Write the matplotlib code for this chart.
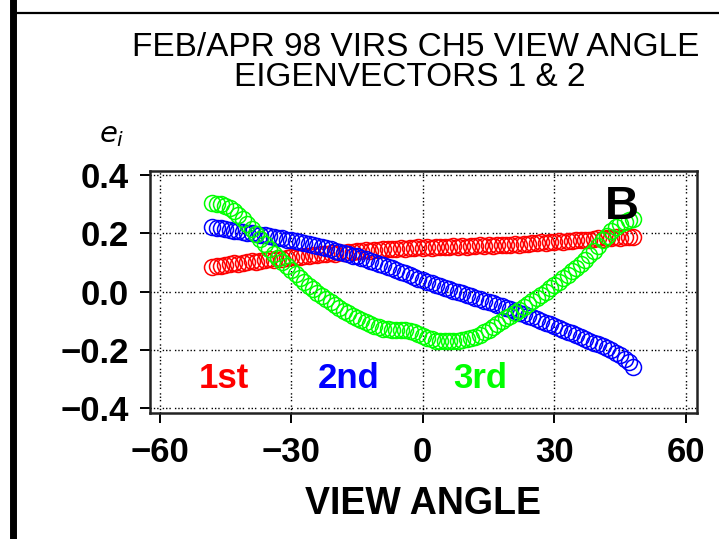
import matplotlib
matplotlib.use("Agg")
import matplotlib.pyplot as plt
from matplotlib.lines import Line2D

plt.rcParams['font.family'] = ['Liberation Sans', 'DejaVu Sans']

view_angle = [-48, -47, -46, -45, -44, -43, -42, -41, -40, -39, -38, -37, -36, -35, -34, -33,
              -32, -31, -30, -29, -28, -27, -26, -25, -24, -23, -22, -21, -20, -19, -18, -17,
              -16, -15, -14, -13, -12, -11, -10, -9, -8, -7, -6, -5, -4, -3, -2, -1, 0,
              1, 2, 3, 4, 5, 6, 7, 8, 9, 10, 11, 12, 13, 14, 15, 16, 17, 18, 19, 20,
              21, 22, 23, 24, 25, 26, 27, 28, 29, 30, 31, 32, 33, 34, 35, 36, 37, 38, 39, 40,
              41, 42, 43, 44, 45, 46, 47, 48]

eig_1st = [0.085, 0.088, 0.089, 0.093, 0.094, 0.097, 0.096, 0.100, 0.101, 0.104, 0.103, 0.107,
           0.108, 0.111, 0.110, 0.114, 0.113, 0.117, 0.118, 0.120, 0.119, 0.123, 0.124, 0.126,
           0.125, 0.129, 0.128, 0.132, 0.131, 0.135, 0.134, 0.137, 0.138, 0.141, 0.139, 0.142,
           0.141, 0.144, 0.143, 0.146, 0.145, 0.148, 0.147, 0.149, 0.148, 0.151, 0.149, 0.152,
           0.150, 0.153, 0.151, 0.154, 0.152, 0.155, 0.153, 0.156, 0.154, 0.157, 0.155, 0.158,
           0.156, 0.159, 0.157, 0.160, 0.158, 0.161, 0.160, 0.162, 0.161, 0.164, 0.162, 0.165,
           0.164, 0.167, 0.166, 0.169, 0.168, 0.171, 0.170, 0.173, 0.172, 0.175, 0.174, 0.177,
           0.176, 0.179, 0.178, 0.181, 0.183, 0.182, 0.185, 0.184, 0.187, 0.186, 0.188, 0.187,
           0.189]

eig_2nd = [0.222, 0.219, 0.218, 0.214, 0.213, 0.210, 0.208, 0.206, 0.203, 0.201, 0.199, 0.196,
           0.194, 0.190, 0.189, 0.185, 0.183, 0.179, 0.176, 0.173, 0.170, 0.167, 0.163, 0.161,
           0.157, 0.154, 0.150, 0.146, 0.141, 0.138, 0.133, 0.130, 0.124, 0.121, 0.116, 0.112,
           0.106, 0.101, 0.095, 0.091, 0.085, 0.080, 0.074, 0.069, 0.063, 0.057, 0.052, 0.045,
           0.040, 0.034, 0.030, 0.024, 0.019, 0.014, 0.008, 0.004, -0.002, -0.006, -0.012,
           -0.016, -0.022, -0.026, -0.031, -0.036, -0.040, -0.046, -0.050, -0.056, -0.061,
           -0.066, -0.072, -0.077, -0.083, -0.088, -0.095, -0.100, -0.107, -0.112, -0.119,
           -0.125, -0.131, -0.137, -0.143, -0.150, -0.156, -0.162, -0.168, -0.175, -0.181,
           -0.188, -0.194, -0.201, -0.210, -0.219, -0.230, -0.242, -0.258]

eig_3rd = [0.305, 0.303, 0.300, 0.296, 0.288, 0.278, 0.265, 0.250, 0.233, 0.216, 0.199, 0.182,
           0.165, 0.148, 0.131, 0.116, 0.101, 0.087, 0.073, 0.060, 0.047, 0.034, 0.021, 0.009,
           -0.003, -0.014, -0.025, -0.036, -0.046, -0.056, -0.065, -0.074, -0.082, -0.090,
           -0.098, -0.105, -0.112, -0.118, -0.123, -0.127, -0.130, -0.132, -0.133, -0.133,
           -0.133, -0.134, -0.138, -0.144, -0.151, -0.158, -0.164, -0.168, -0.170, -0.171,
           -0.171, -0.170, -0.169, -0.167, -0.164, -0.160, -0.155, -0.148, -0.140, -0.131,
           -0.122, -0.112, -0.102, -0.092, -0.082, -0.072, -0.062, -0.052, -0.042, -0.032,
           -0.022, -0.011, 0.000, 0.011, 0.022, 0.034, 0.046, 0.058, 0.070, 0.083, 0.096,
           0.110, 0.125, 0.141, 0.158, 0.176, 0.193, 0.208, 0.222, 0.233, 0.241, 0.247, 0.250]

series_labels = ['1st', '2nd', '3rd']
series_colors = ['#ff0000', '#0000ff', '#00ff00']

x_ticks = [-60, -30, 0, 30, 60]
x_tick_labels = ['\u221260', '\u221230', '0', '30', '60']
y_ticks = [-0.4, -0.2, 0.0, 0.2, 0.4]
y_tick_labels = ['\u22120.4', '\u22120.2', '0.0', '0.2', '0.4']

W, H = 719, 539
fig = plt.figure(figsize=(W / 100, H / 100), dpi=100)

# page border lines
fig.add_artist(Line2D([13 / W, 13 / W], [0, 1], color='black', lw=5.0, transform=fig.transFigure))
fig.add_artist(Line2D([15 / W, 1], [1 - 12.5 / H, 1 - 12.5 / H], color='black', lw=1.6,
                      transform=fig.transFigure))

left, right, top, bottom = 149.5, 696.5, 171, 413
ax = fig.add_axes([left / W, 1 - bottom / H, (right - left) / W, (bottom - top) / H])

for ys, c in zip([eig_1st, eig_2nd, eig_3rd], series_colors):
    ax.plot(view_angle, ys, linestyle='none', marker='o', markersize=11.5,
            markerfacecolor='none', markeredgecolor=c, markeredgewidth=1.1)

ax.set_xlim(-62.28, 62.4)
ax.set_ylim(-0.417, 0.4147)
ax.set_xticks(x_ticks)
ax.set_xticklabels(x_tick_labels)
ax.set_yticks(y_ticks)
ax.set_yticklabels(y_tick_labels)

for lab in ax.get_xticklabels() + ax.get_yticklabels():
    lab.set_fontweight('bold')
    lab.set_fontsize(25)

ax.tick_params(axis='x', direction='out', length=7.5, width=1.4, pad=9, top=False)
ax.tick_params(axis='y', direction='out', length=7, width=1.4, pad=8)

ax.grid(True, color='black', linestyle=(0, (1, 1.4, 1, 1.4, 1, 3)), linewidth=1.0)
ax.set_axisbelow(True)
for s in ax.spines.values():
    s.set_linewidth(1.8)
    s.set_color('#222222')

ax.set_xlabel('VIEW ANGLE', fontsize=27, fontweight='bold', labelpad=12)

# titles
fig.text(416 / W, 1 - 47 / H, 'FEB/APR 98 VIRS CH5 VIEW ANGLE', ha='center', va='center',
         fontsize=24)
fig.text(410 / W, 1 - 78 / H, 'EIGENVECTORS 1 & 2', ha='center', va='center', fontsize=24)
fig.text(112 / W, 1 - 135 / H, r'$e_i$', ha='center', va='center', fontsize=21,
         family='DejaVu Serif')

# series labels inside the plot
label_x = [-51, -24, 7]
for lx, t, c in zip(label_x, series_labels, series_colors):
    ax.text(lx, -0.298, t, color=c, fontsize=25, fontweight='bold', ha='left', va='center')
ax.text(45.4, 0.291, 'B', color='black', fontsize=34, fontweight='bold', ha='center', va='center')

fig.savefig('out.png', dpi=100)
